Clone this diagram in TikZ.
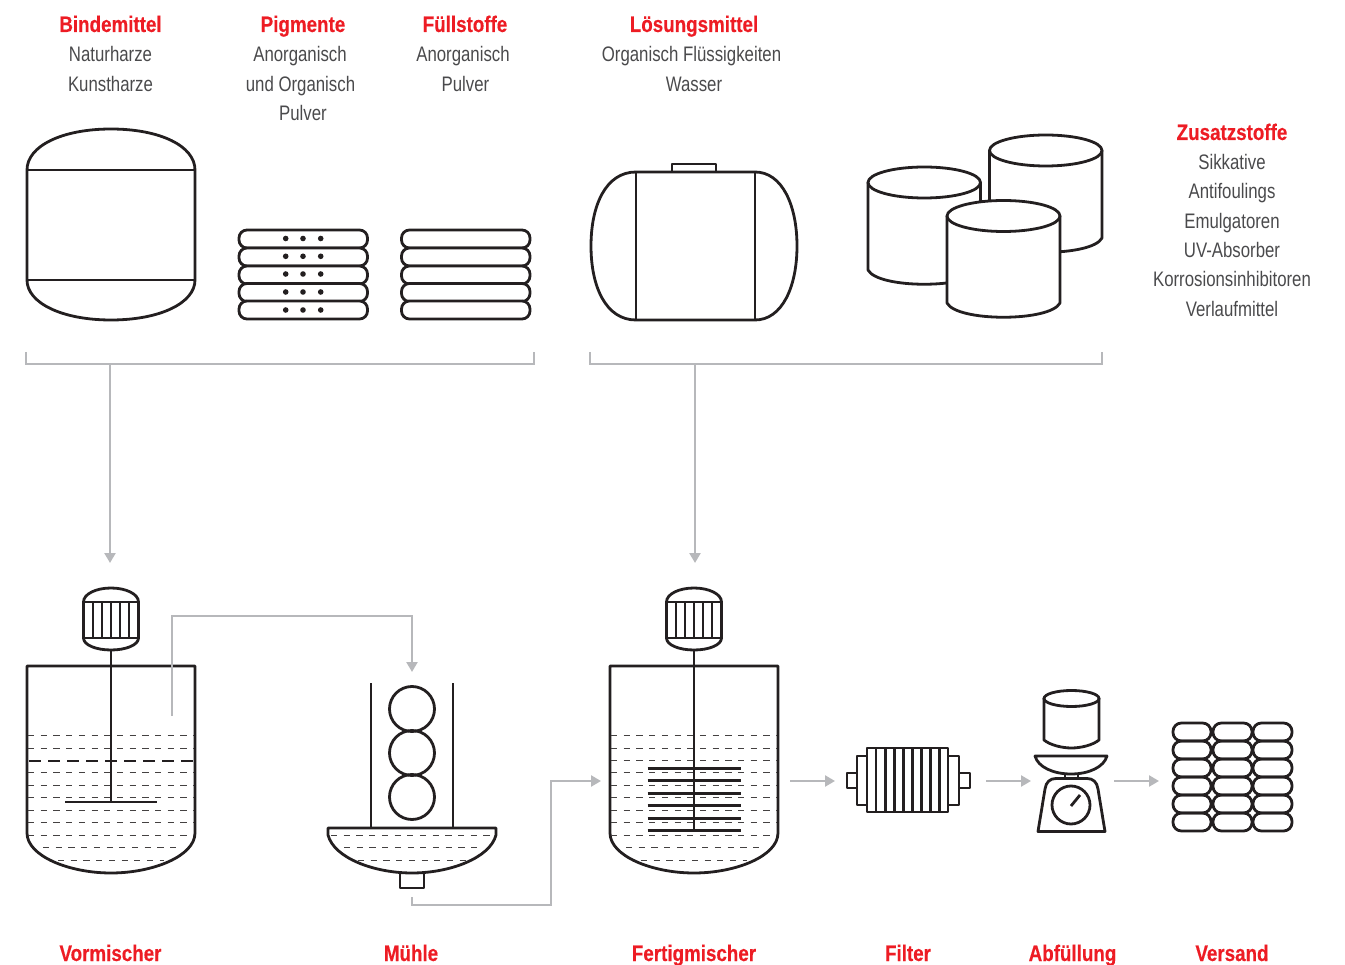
\documentclass[tikz,border=0pt]{standalone}
\usepackage{fontspec}
\usetikzlibrary{arrows.meta}
\setmainfont{Liberation Sans}
\newfontfamily\cnlight[FakeStretch=0.8]{Liberation Sans}
\newfontfamily\cnbold[FakeStretch=0.835,FakeBold=0.3]{Liberation Sans Bold}
\definecolor{inkc}{HTML}{231F20}
\definecolor{flowc}{HTML}{B7B8BB}
\definecolor{redc}{HTML}{ED1C24}
\definecolor{textc}{HTML}{4A4A4C}
\tikzset{
 ink/.style={draw=inkc,line width=2.8pt,line join=round},
 thin dash/.style={draw=inkc!85,line width=1.15pt,dash pattern=on 6.2pt off 6.5pt},
 thick dash/.style={draw=inkc,line width=2.8pt,dash pattern=on 12pt off 7pt},
 flow/.style={draw=flowc,line width=2.8pt},
 flowarrow/.style={flow,-{Triangle[length=10pt,width=11pt]}},
 pill/.style={ink,fill=white,rounded corners=8pt},
 head/.style={anchor=base,text=redc,font=\cnbold\fontsize{22.5}{24}\selectfont},
 sub/.style={anchor=base,text=textc,font=\cnlight\fontsize{21}{24}\selectfont},
}
% motor centred on x=0 in local coordinates
\newcommand{\MotorShape}{%
 \draw[ink,fill=white] (-27.5,602) .. controls (-27.5,594) and (-15,588) .. (0,588) .. controls (15,588) and (27.5,594) .. (27.5,602)
   -- (27.5,638) .. controls (27.5,645) and (15,650) .. (0,650) .. controls (-15,650) and (-27.5,645) .. (-27.5,638) -- cycle;
 \draw[ink] (-27.5,602) -- (27.5,602) (-27.5,638) -- (27.5,638);
 \foreach \dx in {-18,-9,0,9,18} \draw[ink] (\dx,602) -- (\dx,638);
}
% mixer vessel centred on x=0
\newcommand{\VesselShape}{%
 \draw[ink] (-84,666) -- (84,666) -- (84,833) .. controls (84,856) and (42,873) .. (0,873) .. controls (-42,873) and (-84,856) .. (-84,833) -- cycle;
 \foreach \yy in {735.5,748.5,772.5,785.5,797.5,810.5,822.5,835.5} \draw[thin dash] (-83,\yy) -- (83,\yy);
 \draw[thin dash] (-68,847.5) -- (69,847.5);
 \draw[thin dash] (-53,860.5) -- (53,860.5);
}
\newcommand{\Drum}[5]{% left x, right x, top centre y, side end y, ry
 \draw[ink,fill=white] (#1,#3) -- (#1,#4) .. controls ({#1+10},{#4+19}) and ({#2-10},{#4+19}) .. (#2,#4) -- (#2,#3);
 \draw[ink,fill=white] ({(#1+#2)/2},#3) ellipse ({(#2-#1)/2} and #5);
}
\begin{document}
\begin{tikzpicture}[x=1pt,y=-1pt]
\useasboundingbox (0,0) rectangle (1345,965);

% connector end points
\coordinate (brAa) at (26,352); \coordinate (brAb) at (26,364);
\coordinate (brAc) at (534,364); \coordinate (brAd) at (534,352);
\coordinate (brBa) at (590,352); \coordinate (brBb) at (590,364);
\coordinate (brBc) at (1102,364); \coordinate (brBd) at (1102,352);
\coordinate (dropA) at (110,364); \coordinate (inVor) at (110,563);
\coordinate (dropB) at (695,364); \coordinate (inFer) at (695,563);
\coordinate (outVor) at (172,716); \coordinate (viaVorA) at (172,616);
\coordinate (viaVorB) at (412,616); \coordinate (inMue) at (412,672);
\coordinate (outMue) at (412,897); \coordinate (viaMueA) at (412,905);
\coordinate (viaMueB) at (551,905); \coordinate (viaMueC) at (551,781);
\coordinate (inFerB) at (601,781);
\coordinate (outFer) at (790,781); \coordinate (inFil) at (835,781);
\coordinate (outFil) at (986,781); \coordinate (inAbf) at (1031,781);
\coordinate (outAbf) at (1114,781); \coordinate (inVer) at (1159,781);

% binder tank
\draw[ink] (27,170) .. controls (27,146) and (62,129) .. (111,129) .. controls (160,129) and (195,146) .. (195,170)
  -- (195,280) .. controls (195,303) and (160,320) .. (111,320) .. controls (62,320) and (27,303) .. (27,280) -- cycle;
\draw[ink] (27,170) -- (195,170) (27,280) -- (195,280);

% pigment and filler stacks
\foreach \yy in {230,248,266,283.5,301} {
  \draw[pill] (239,\yy) rectangle (367.5,\yy+18);
  \draw[pill] (401.5,\yy) rectangle (530,\yy+18);
}
\foreach \yy in {238.5,256.3,274,292,310}
  \foreach \xx in {285.7,303,320.7}
    \fill[inkc] (\xx,\yy) circle (2.8);

% solvent tank
\draw[ink] (672,172) -- (672,164) -- (716,164) -- (716,172);
\draw[ink] (636,172) -- (755,172) .. controls (782,172) and (797,205) .. (797,246) .. controls (797,287) and (782,320) .. (755,320)
  -- (636,320) .. controls (606,320) and (591,287) .. (591,246) .. controls (591,205) and (606,172) .. (636,172) -- cycle;
\draw[ink] (636,172) -- (636,320) (755,172) -- (755,320);

% additive drums
\Drum{989.5}{1102}{150.5}{238}{15.5}
\Drum{868}{980.5}{182.5}{270}{15.5}
\Drum{947}{1060}{216}{303}{15.5}

% Vormischer
\begin{scope}[xshift=111pt]
 \VesselShape
 \draw[thick dash] (-82,761) -- (83,761);
 \MotorShape
 \draw[ink] (0,650) -- (0,802);
 \draw[ink] (-46,802) -- (46,802);
\end{scope}

% Muehle
\draw[ink] (371,683) -- (371,827) (453,683) -- (453,827);
\foreach \yy in {709,753,797} \draw[ink] (412,\yy) circle (22.5);
\draw[ink] (400,872) -- (400,888) -- (424,888) -- (424,872);
\draw[ink] (328,828) -- (496,828) -- (496,835) .. controls (490,858) and (450,873) .. (412,873) .. controls (374,873) and (334,858) .. (328,835) -- cycle;
\draw[thin dash] (331,835.5) -- (490,835.5);
\draw[thin dash] (344,847.5) -- (480,847.5);
\draw[thin dash] (358,860.5) -- (466,860.5);

% Fertigmischer
\begin{scope}[xshift=694pt]
 \VesselShape
 \draw[thin dash] (-83,760.5) -- (83,760.5);
 \MotorShape
 \draw[ink] (0,650) -- (0,831);
 \foreach \yy in {768.3,780.7,793.3,805.7,818.3,830.7} \draw[ink] (-46.5,\yy) -- (46.5,\yy);
\end{scope}

% Filter
\draw[ink] (847,773) rectangle (857,788);
\draw[ink] (959,773) rectangle (970,788);
\draw[ink] (857,756) rectangle (867,805);
\draw[ink] (948,756) rectangle (959,805);
\draw[ink] (867,748) rectangle (948,812);
\foreach \xx in {876,885.3,894.7,903.7,912.7,921.7,930.3,939.3} \draw[ink] (\xx,748) -- (\xx,812);

% Abfuellung
\draw[ink] (1044,698) -- (1044,740) .. controls (1050,745) and (1062,748) .. (1071.5,748) .. controls (1081,748) and (1093,745) .. (1099,740) -- (1099,698);
\draw[ink] (1071.5,698.5) ellipse (27.5 and 8);
\draw[ink] (1035,756) -- (1107,756) .. controls (1104,767) and (1089,774) .. (1071,774) .. controls (1053,774) and (1038,767) .. (1035,756) -- cycle;
\draw[ink] (1065,774) -- (1065,778) (1078,774) -- (1078,778);
\draw[ink] (1038,831.5) -- (1045,789) .. controls (1046,782) and (1050,778.5) .. (1056,778.5) -- (1087,778.5) .. controls (1093,778.5) and (1097,782) .. (1098,789) -- (1105,831.5) -- cycle;
\draw[ink] (1071,805) circle (19);
\draw[ink] (1071,806) -- (1080,795);

% Versand
\foreach \yy in {723,741,759,777,795,813}
  \foreach \xx/\xe in {1173/1211,1213/1252,1253/1292}
    \draw[ink,rounded corners=8.4pt] (\xx,\yy) rectangle (\xe,\yy+18);

% connectors
\draw[flow] (brAa) -- (brAb) -- (brAc) -- (brAd);
\draw[flow] (brBa) -- (brBb) -- (brBc) -- (brBd);
\draw[flowarrow] (dropA) -- (inVor);
\draw[flowarrow] (dropB) -- (inFer);
\draw[flowarrow] (outVor) -- (viaVorA) -- (viaVorB) -- (inMue);
\draw[flowarrow] (outMue) -- (viaMueA) -- (viaMueB) -- (viaMueC) -- (inFerB);
\draw[flowarrow] (outFer) -- (inFil);
\draw[flowarrow] (outFil) -- (inAbf);
\draw[flowarrow] (outAbf) -- (inVer);

% labels
\node[head] (tBind) at (110.5,32) {Bindemittel};
\node[sub] (tNat) at (110.5,62) {Naturharze};
\node[sub] (tKun) at (110.5,92) {Kunstharze};
\node[head] (tPig) at (303,32) {Pigmente};
\node[sub] (tPa) at (300,62) {Anorganisch};
\node[sub] (tPb) at (300.5,92) {und Organisch};
\node[sub] (tPc) at (303,121) {Pulver};
\node[head] (tFue) at (465,32) {Füllstoffe};
\node[sub] (tFa) at (463,62) {Anorganisch};
\node[sub] (tFb) at (465.5,92) {Pulver};
\node[head] (tLoe) at (694,32) {Lösungsmittel};
\node[sub] (tLa) at (691.5,62) {Organisch Flüssigkeiten};
\node[sub] (tLb) at (694,92) {Wasser};
\node[head] (tZus) at (1232,140) {Zusatzstoffe};
\node[sub] (tZa) at (1232,170) {Sikkative};
\node[sub] (tZb) at (1232,199) {Antifoulings};
\node[sub] (tZc) at (1232,229) {Emulgatoren};
\node[sub] (tZd) at (1232,258) {UV-Absorber};
\node[sub] (tZe) at (1232,287) {Korrosionsinhibitoren};
\node[sub] (tZf) at (1232,317) {Verlaufmittel};
\node[head] (tVor) at (110.5,961) {Vormischer};
\node[head] (tMue) at (411,961) {Mühle};
\node[head] (tFer) at (694,961) {Fertigmischer};
\node[head] (tFil) at (908,961) {Filter};
\node[head] (tAbf) at (1072.5,961) {Abfüllung};
\node[head] (tVer) at (1232,961) {Versand};
\end{tikzpicture}
\end{document}
